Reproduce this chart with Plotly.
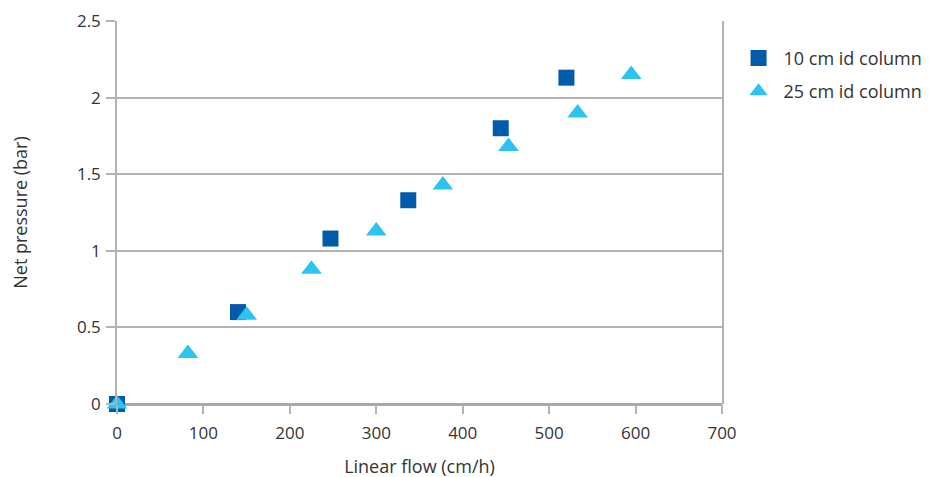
import plotly.graph_objects as go

# Data
flow_10cm = [0, 140, 247, 337, 444, 520]
pressure_10cm = [0, 0.60, 1.08, 1.33, 1.80, 2.13]

flow_25cm = [0, 82, 150, 225, 300, 377, 453, 533, 595]
pressure_25cm = [0, 0.33, 0.58, 0.88, 1.13, 1.43, 1.68, 1.90, 2.15]

series_names = ["10 cm id column", "25 cm id column"]
x_ticks = [0, 100, 200, 300, 400, 500, 600, 700]
y_ticks = [0, 0.5, 1, 1.5, 2, 2.5]

FONT = "Open Sans"
GRID = "#b3b3b3"
TEXT = "#333333"

fig = go.Figure()
fig.add_trace(go.Scatter(
    x=flow_10cm, y=pressure_10cm, mode="markers", name=series_names[0],
    marker=dict(symbol="square", size=16, color="#005bab"),
    cliponaxis=False, legendgroup="a",
))
fig.add_trace(go.Scatter(
    x=flow_25cm, y=pressure_25cm, mode="markers", name=series_names[1],
    marker=dict(symbol="triangle-up", size=18, color="#2cc3f0"),
    cliponaxis=False, legendgroup="b",
))

fig.update_layout(
    width=929, height=477,
    margin=dict(l=109, r=215, t=13, b=81, autoexpand=False),
    paper_bgcolor="white", plot_bgcolor="white",
    font=dict(family=FONT, size=17, color=TEXT),
    showlegend=True,
    legend=dict(
        x=0.781, y=0.951, xanchor="left", yanchor="top",
        xref="container", yref="paper",
        font=dict(family=FONT, size=18, color=TEXT),
        traceorder="grouped", tracegroupgap=7,
        itemwidth=40, bgcolor="rgba(0,0,0,0)",
    ),
    xaxis=dict(
        range=[0, 700], tickvals=x_ticks, showgrid=False,
        zeroline=False, showline=False, automargin=False,
        ticks="outside", ticklen=9, tickwidth=1.5, tickcolor=GRID,
        ticklabelstandoff=5,
        tickfont=dict(family=FONT, size=17, color=TEXT),
        title=dict(text="Linear flow (cm/h)", standoff=16,
                   font=dict(family=FONT, size=18, color=TEXT)),
    ),
    yaxis=dict(
        range=[0, 2.5], tickvals=y_ticks, automargin=False,
        showgrid=True, gridcolor=GRID, gridwidth=1.5,
        zeroline=True, zerolinecolor="#a8a8a8", zerolinewidth=3,
        showline=True, linecolor=GRID, linewidth=1.5, mirror=True,
        ticks="outside", ticklen=9, tickwidth=1.5, tickcolor=GRID,
        ticklabelstandoff=2,
        tickfont=dict(family=FONT, size=17, color=TEXT),
        title=dict(text="Net pressure (bar)", standoff=49,
                   font=dict(family=FONT, size=18, color=TEXT)),
    ),
)

fig.write_html("out.html")
